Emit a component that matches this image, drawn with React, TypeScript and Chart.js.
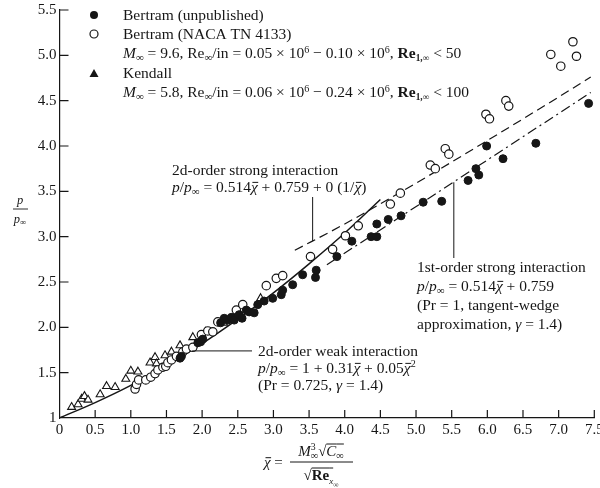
import { useEffect, useRef } from 'react';
import { Chart, registerables } from 'chart.js';
Chart.register(...registerables);

const FONT = '"Liberation Serif", "Times New Roman", serif';

// Bertram (unpublished) – filled circles
const unpublished: [number, number][] = [
  [1.69, 1.66], [1.71, 1.68], [1.94, 1.83], [1.98, 1.84], [2.01, 1.87], [2.26, 2.05], [2.31, 2.10],
  [2.36, 2.08], [2.41, 2.11], [2.45, 2.08], [2.52, 2.14], [2.56, 2.10], [2.62, 2.19], [2.66, 2.17],
  [2.73, 2.16], [2.78, 2.25], [2.87, 2.29], [2.99, 2.32], [3.11, 2.36], [3.13, 2.41], [3.27, 2.47],
  [3.41, 2.58], [3.59, 2.55], [3.60, 2.63], [3.89, 2.78], [4.10, 2.95], [4.37, 3.00], [4.45, 3.00],
  [4.45, 3.14], [4.61, 3.19], [4.79, 3.23], [5.10, 3.38], [5.36, 3.39], [5.73, 3.62], [5.88, 3.68],
  [5.84, 3.75], [6.22, 3.86], [5.99, 4.00], [6.68, 4.03], [7.42, 4.47],
];

// Bertram (NACA TN 4133) – open circles
const naca: [number, number][] = [
  [1.06, 1.32], [1.08, 1.37], [1.11, 1.42], [1.21, 1.42], [1.28, 1.45], [1.34, 1.49], [1.38, 1.53],
  [1.45, 1.56], [1.49, 1.57], [1.52, 1.61], [1.57, 1.64], [1.64, 1.68], [1.73, 1.73], [1.78, 1.76],
  [1.87, 1.78], [1.99, 1.92], [2.08, 1.96], [2.15, 1.95], [2.22, 2.06], [2.43, 2.10], [2.48, 2.19],
  [2.57, 2.25], [2.90, 2.46], [3.04, 2.54], [3.13, 2.57], [3.52, 2.78], [3.83, 2.86], [4.01, 3.01],
  [4.19, 3.12], [4.64, 3.36], [4.78, 3.48], [5.20, 3.79], [5.27, 3.75], [5.41, 3.97], [5.46, 3.91],
  [5.98, 4.35], [6.03, 4.30], [6.26, 4.50], [6.30, 4.44], [6.89, 5.01], [7.03, 4.88], [7.20, 5.15],
  [7.25, 4.99],
];

// Kendall – open triangles
const kendall: [number, number][] = [
  [0.17, 1.12], [0.26, 1.15], [0.31, 1.21], [0.35, 1.24], [0.40, 1.20], [0.57, 1.26], [0.66, 1.35],
  [0.78, 1.34], [0.93, 1.43], [1.00, 1.52], [1.10, 1.51], [1.27, 1.61], [1.34, 1.67], [1.36, 1.60],
  [1.48, 1.69], [1.57, 1.73], [1.69, 1.80], [1.87, 1.89], [2.05, 1.95], [2.30, 2.05], [2.82, 2.32],
];

// Theory curves
const weakX = [0, 0.5, 1, 1.5, 2, 2.5, 3, 3.5, 4, 4.5];
const weakY = [1, 1.17, 1.36, 1.58, 1.82, 2.09, 2.38, 2.70, 3.04, 3.41];
const strong2X = [3.3, 4, 5, 6, 7, 7.45];
const strong2Y = [2.85, 3.14, 3.59, 4.06, 4.54, 4.76];
const strong1X = [3.75, 7.45];
const strong1Y = [2.69, 4.59];

const xTicks = [0.5, 1, 1.5, 2, 2.5, 3, 3.5, 4, 4.5, 5, 5.5, 6, 6.5, 7, 7.5];
const yTicks = [1.5, 2, 2.5, 3, 3.5, 4, 4.5, 5, 5.5];

type Seg = { t: string; i?: boolean; b?: boolean; s?: number; dy?: number; bar?: boolean; over?: boolean; nw?: boolean };

const INK = '#161616';
const TXT = 15.5;

function fnt(size: number, i?: boolean, b?: boolean) {
  return `${i ? 'italic ' : ''}${b ? 'bold ' : ''}${size}px ${FONT}`;
}

function drawRich(ctx: CanvasRenderingContext2D, segs: Seg[], x: number, y: number, base: number, align: 'left' | 'center' = 'left') {
  const widths = segs.map((g) => {
    ctx.font = fnt(base * (g.s || 1), g.i, g.b);
    return g.nw ? 0 : ctx.measureText(g.t).width;
  });
  const total = widths.reduce((a, b) => a + b, 0);
  let cx = align === 'center' ? x - total / 2 : x;
  ctx.textBaseline = 'alphabetic';
  ctx.textAlign = 'left';
  segs.forEach((g, k) => {
    ctx.font = fnt(base * (g.s || 1), g.i, g.b);
    const w = ctx.measureText(g.t).width;
    ctx.fillStyle = INK;
    ctx.fillText(g.t, cx, y + (g.dy || 0));
    ctx.strokeStyle = INK;
    ctx.lineWidth = 1;
    if (g.bar) {
      ctx.beginPath();
      ctx.moveTo(cx + 1.5, y - base * 0.62);
      ctx.lineTo(cx + w + 0.5, y - base * 0.62);
      ctx.stroke();
    }
    if (g.over) {
      ctx.beginPath();
      ctx.moveTo(cx, y - base * 0.8);
      ctx.lineTo(cx + w, y - base * 0.8);
      ctx.stroke();
    }
    cx += widths[k];
  });
  return total;
}

const pp: Seg[] = [{ t: 'p', i: true }, { t: '/' }, { t: 'p', i: true }, { t: '∞', s: 0.7, dy: 3 }];
const chi: Seg = { t: 'χ', i: true, bar: true };

const overlay = {
  id: 'overlay',
  afterDraw(chart: any) {
    const { ctx, scales, chartArea: a } = chart;
    const xs = scales.x;
    const ys = scales.y;
    ctx.save();
    // inward tick marks
    ctx.strokeStyle = INK;
    ctx.lineWidth = 1.2;
    ctx.setLineDash([]);
    ctx.beginPath();
    yTicks.forEach((v) => {
      const py = ys.getPixelForValue(v);
      ctx.moveTo(a.left, py);
      ctx.lineTo(a.left + 9, py);
    });
    xTicks.forEach((v) => {
      const px = xs.getPixelForValue(v);
      ctx.moveTo(px, a.bottom);
      ctx.lineTo(px, a.bottom - 8);
    });
    ctx.stroke();

    // leader lines
    ctx.lineWidth = 1;
    ctx.beginPath();
    const l1x = xs.getPixelForValue(3.55);
    ctx.moveTo(l1x, 197);
    ctx.lineTo(l1x, ys.getPixelForValue(2.95));
    const l2x = xs.getPixelForValue(5.53);
    ctx.moveTo(l2x, ys.getPixelForValue(3.6));
    ctx.lineTo(l2x, 258);
    const l3y = ys.getPixelForValue(1.74);
    ctx.moveTo(xs.getPixelForValue(1.86), l3y);
    ctx.lineTo(252, l3y);
    ctx.stroke();

    // legend
    ctx.fillStyle = INK;
    ctx.beginPath();
    ctx.arc(94, 15, 4, 0, Math.PI * 2);
    ctx.fill();
    ctx.beginPath();
    ctx.arc(94, 34, 4, 0, Math.PI * 2);
    ctx.lineWidth = 1.2;
    ctx.stroke();
    ctx.beginPath();
    ctx.moveTo(94, 69);
    ctx.lineTo(98.5, 77);
    ctx.lineTo(89.5, 77);
    ctx.closePath();
    ctx.fill();

    const L = 123;
    drawRich(ctx, [{ t: 'Bertram (unpublished)' }], L, 20, TXT);
    drawRich(ctx, [{ t: 'Bertram (NACA TN 4133)' }], L, 39, TXT);
    drawRich(ctx, [
      { t: 'M', i: true }, { t: '∞', s: 0.7, dy: 3 }, { t: ' = 9.6, Re' }, { t: '∞', s: 0.7, dy: 3 },
      { t: '/in = 0.05 × 10' }, { t: '6', s: 0.65, dy: -5 }, { t: ' − 0.10 × 10' }, { t: '6', s: 0.65, dy: -5 },
      { t: ', ' }, { t: 'Re', b: true }, { t: '1,∞', s: 0.6, dy: 3, b: true }, { t: ' < 50' },
    ], L, 58, TXT);
    drawRich(ctx, [{ t: 'Kendall' }], L, 78, TXT);
    drawRich(ctx, [
      { t: 'M', i: true }, { t: '∞', s: 0.7, dy: 3 }, { t: ' = 5.8, Re' }, { t: '∞', s: 0.7, dy: 3 },
      { t: '/in = 0.06 × 10' }, { t: '6', s: 0.65, dy: -5 }, { t: ' − 0.24 × 10' }, { t: '6', s: 0.65, dy: -5 },
      { t: ', ' }, { t: 'Re', b: true }, { t: '1,∞', s: 0.6, dy: 3, b: true }, { t: ' < 100' },
    ], L, 97, TXT);

    // annotations
    drawRich(ctx, [{ t: '2d-order strong interaction' }], 172, 175, TXT);
    drawRich(ctx, [...pp, { t: ' = 0.514' }, chi, { t: ' + 0.759 + 0 (1/' }, chi, { t: ')' }], 172, 192, TXT);

    drawRich(ctx, [{ t: '1st-order strong interaction' }], 417, 272, TXT);
    drawRich(ctx, [...pp, { t: ' = 0.514' }, chi, { t: ' + 0.759' }], 417, 291, TXT);
    drawRich(ctx, [{ t: '(Pr = 1, tangent-wedge' }], 417, 310, TXT);
    drawRich(ctx, [{ t: 'approximation, ' }, { t: 'γ', i: true }, { t: ' = 1.4)' }], 417, 329, TXT);

    drawRich(ctx, [{ t: '2d-order weak interaction' }], 258, 356, TXT);
    drawRich(ctx, [...pp, { t: ' = 1 + 0.31' }, chi, { t: ' + 0.05' }, chi, { t: '2', s: 0.65, dy: -6 }], 258, 373, TXT);
    drawRich(ctx, [{ t: '(Pr = 0.725, ' }, { t: 'γ', i: true }, { t: ' = 1.4)' }], 258, 390, TXT);

    // y-axis title p / p∞
    drawRich(ctx, [{ t: 'p', i: true }], 20, 204, 12.5, 'center');
    ctx.lineWidth = 0.9;
    ctx.beginPath();
    ctx.moveTo(13, 209);
    ctx.lineTo(28, 209);
    ctx.stroke();
    drawRich(ctx, [{ t: 'p', i: true }, { t: '∞', s: 0.7, dy: 2 }], 20, 223, 12.5, 'center');

    // x-axis title
    drawRich(ctx, [chi, { t: ' =' }], 264, 467, 15);
    drawRich(ctx, [
      { t: 'M', i: true }, { t: '3', s: 0.65, dy: -6, nw: true }, { t: '∞', s: 0.7, dy: 3 },
      { t: '√' }, { t: 'C', i: true, over: true }, { t: '∞', s: 0.7, dy: 3, over: true },
    ], 321, 456, 15, 'center');
    ctx.lineWidth = 1;
    ctx.beginPath();
    ctx.moveTo(290, 462);
    ctx.lineTo(353, 462);
    ctx.stroke();
    drawRich(ctx, [
      { t: '√' }, { t: 'Re', b: true, over: true }, { t: 'x', i: true, s: 0.6, dy: 4, over: true }, { t: '∞', s: 0.5, dy: 7 },
    ], 321, 480, 15, 'center');
    ctx.restore();
  },
};

const toXY = (arr: [number, number][]) => arr.map(([x, y]) => ({ x, y }));
const zipXY = (xs: number[], ys: number[]) => xs.map((x, i) => ({ x, y: ys[i] }));

export default function App() {
  const ref = useRef<HTMLCanvasElement>(null);
  useEffect(() => {
    if (!ref.current) return;
    const chart = new Chart(ref.current, {
      type: 'scatter',
      data: {
        datasets: [
          { data: toXY(unpublished), pointStyle: 'circle', pointRadius: 4, backgroundColor: INK, borderColor: INK, borderWidth: 1 },
          { data: toXY(naca), pointStyle: 'circle', pointRadius: 4.2, backgroundColor: '#fff', borderColor: INK, borderWidth: 1.2 },
          { data: toXY(kendall), pointStyle: 'triangle', pointRadius: 4.6, backgroundColor: '#fff', borderColor: INK, borderWidth: 1.1 },
          { data: zipXY(weakX, weakY), showLine: true, pointRadius: 0, borderColor: INK, borderWidth: 1.5, cubicInterpolationMode: 'monotone' },
          { data: zipXY(strong2X, strong2Y), showLine: true, pointRadius: 0, borderColor: INK, borderWidth: 1.2, borderDash: [9, 5], cubicInterpolationMode: 'monotone' },
          { data: zipXY(strong1X, strong1Y), showLine: true, pointRadius: 0, borderColor: INK, borderWidth: 1.2, borderDash: [10, 4, 2, 4] },
        ] as any,
      },
      options: {
        responsive: false,
        devicePixelRatio: 1,
        animation: false,
        events: [],
        layout: { padding: { top: 10, right: 4, left: 0, bottom: 0 } },
        plugins: { legend: { display: false }, tooltip: { enabled: false } },
        scales: {
          x: {
            type: 'linear', min: 0, max: 7.5,
            grid: { display: false, drawTicks: false },
            border: { display: true, color: INK, width: 1.2 },
            ticks: {
              stepSize: 0.5, autoSkip: false, maxRotation: 0, padding: 3, color: INK,
              font: { family: FONT, size: 15 },
              callback: (v: any) => (Number(v) === 0 ? '0' : Number(v).toFixed(1)),
            },
            afterFit: (s: any) => { s.height = 70; s.paddingLeft = 0; s.paddingRight = 0; },
          },
          y: {
            type: 'linear', min: 1, max: 5.5,
            grid: { display: false, drawTicks: false },
            border: { display: true, color: INK, width: 1.2 },
            ticks: {
              stepSize: 0.5, autoSkip: false, padding: 3, color: INK,
              font: { family: FONT, size: 15 },
              callback: (v: any) => (Number(v) === 1 ? '1' : Number(v).toFixed(1)),
            },
            afterFit: (s: any) => { s.width = 59.5; s.paddingTop = 0; s.paddingBottom = 0; },
          },
        },
      } as any,
      plugins: [overlay],
    });
    return () => chart.destroy();
  }, []);
  return (
    <div style={{ position: 'fixed', left: 0, top: 0, width: 600, height: 488, background: '#fff' }}>
      <canvas ref={ref} width={600} height={488} style={{ display: 'block' }} />
    </div>
  );
}
